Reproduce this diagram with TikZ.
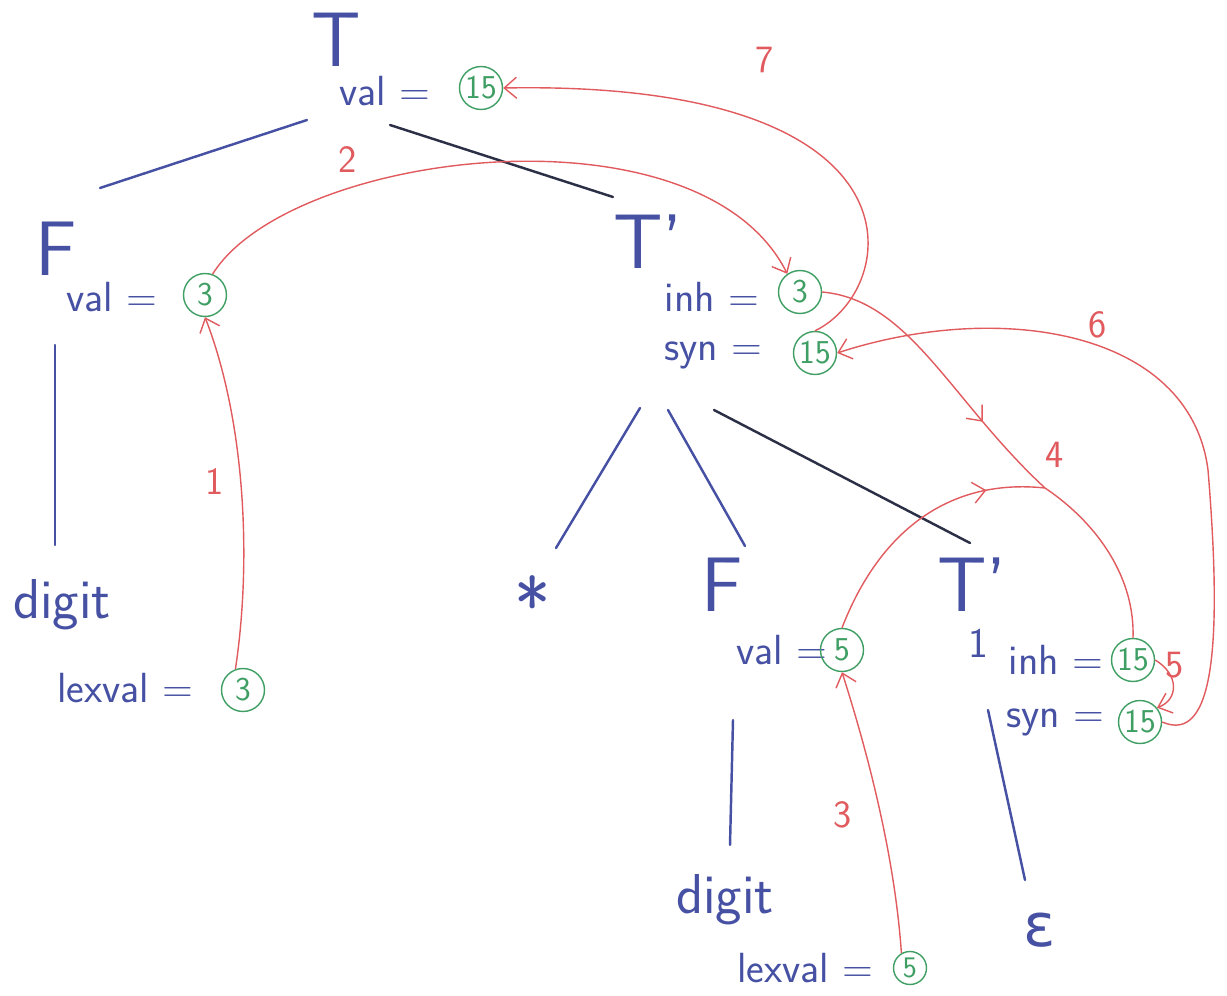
\documentclass[tikz,border=0pt]{standalone}
\usepackage{fontspec}
\newfontfamily\greekfont{DejaVu Sans}
\usetikzlibrary{arrows.meta,decorations.markings}
\definecolor{ink}{HTML}{4651A3}
\definecolor{edgedark}{HTML}{2C3046}
\definecolor{dep}{HTML}{E05A5E}
\definecolor{valgreen}{HTML}{3F9E63}
\begin{document}
\begin{tikzpicture}[x=0.02cm,y=-0.02cm,
  sym/.style={text=ink, inner sep=0, font=\sffamily\fontsize{44}{44}\selectfont},
  term/.style={text=ink, inner sep=0, font=\sffamily\fontsize{32}{32}\selectfont},
  att/.style={text=ink, inner sep=0, font=\sffamily\fontsize{24}{24}\selectfont},
  valc/.style={circle, draw=valgreen, line width=0.8pt, text=valgreen, inner sep=0,
    minimum size=0.86cm, font=\sffamily\fontsize{19}{19}\selectfont},
  smallvalc/.style={valc, minimum size=0.66cm, font=\sffamily\fontsize{17}{17}\selectfont},
  steplbl/.style={text=dep, inner sep=0, font=\sffamily\fontsize{22}{22}\selectfont},
  treeedge/.style={draw=ink, line width=1.4pt, line cap=round},
  darkedge/.style={draw=edgedark, line width=1.4pt, line cap=round},
  depline/.style={draw=dep, line width=0.8pt},
  deparrow/.style={depline, -{Straight Barb[length=7pt,width=12pt]}},
  midarrow/.style={depline, postaction={decorate}, decoration={markings,
    mark=at position #1 with {\arrow{Straight Barb[length=7pt,width=12pt]}}}}
]
\useasboundingbox (0,0) rectangle (1227,996);

% ---- root T ----
\node[sym] (T) at (336,40) {T};
\node[att] (Tvl) at (385,91) {val =};
\node[valc] (Tv) at (481,88) {15};

% ---- left factor F ----
\node[sym] (F) at (56,249) {F};
\node[att] (Fvl) at (112,297) {val =};
\node[valc] (Fv) at (205,295) {3};
\node[term] (D1) at (62,605) {digit};
\node[att] (L1l) at (125,688) {lexval =};
\node[valc] (L1) at (243,690) {3};

% ---- T' ----
\node[sym] (Tp) at (648,242) {T’};
\node[att] (Til) at (712,297) {inh =};
\node[valc] (Ti) at (800,292) {3};
\node[att] (Tsl) at (713,355) {syn =};
\node[valc] (Ts) at (815,353) {15};

% ---- children of T' ----
\node[sym] (star) at (533,605) {*};
\node[sym] (F2) at (722,585) {F};
\node[att] (F2vl) at (782,650) {val =};
\node[valc] (F2v) at (842,650) {5};
\node[term] (D2) at (725,900) {digit};
\node[att] (L2l) at (805,968) {lexval =};
\node[smallvalc] (L2) at (910,968) {5};

% ---- T'_1 ----
\node[sym] (T1) at (972,585) {T’};
\node[att] (T1sub) at (978,643) {1};
\node[att] (T1il) at (1056,660) {inh =};
\node[valc] (T1i) at (1133,660) {15};
\node[att] (T1sl) at (1055,722) {syn =};
\node[valc] (T1s) at (1140,722) {15};
\node[text=ink, inner sep=0, font=\greekfont\fontsize{34}{34}\selectfont] (eps) at (1040,930) {ε};

% ---- parse tree edges ----
\draw[treeedge] ([shift={(-29,80)}]T.center) -- ([shift={(44,-61)}]F.center);
\draw[darkedge] ([shift={(54,85)}]T.center) -- ([shift={(-35,-45)}]Tp.center);
\draw[treeedge] ([shift={(-1,96)}]F.center) -- ([shift={(-7,-60)}]D1.center);
\draw[treeedge] ([shift={(-8,166)}]Tp.center) -- ([shift={(23,-57)}]star.center);
\draw[treeedge] ([shift={(20,168)}]Tp.center) -- ([shift={(23,-39)}]F2.center);
\draw[darkedge] ([shift={(66,168)}]Tp.center) -- ([shift={(-2,-42)}]T1.center);
\draw[treeedge] ([shift={(11,135)}]F2.center) -- ([shift={(5,-55)}]D2.center);
\draw[treeedge] ([shift={(16,125)}]T1.center) -- ([shift={(-15,-50)}]eps.center);

% ---- dependency arrows ----
\draw[deparrow] (L1.110) .. controls (252,560) and (245,420) .. (Fv.south);
\node[steplbl] (s1) at (215,482) {1};

\draw[deparrow] (Fv.70) .. controls (290,150) and (700,100) .. (Ti.125);
\node[steplbl] (s2) at (348,160) {2};

\draw[deparrow] (L2.120) .. controls (895,860) and (870,760) .. (F2v.south);
\node[steplbl] (s3) at (843,815) {3};

\coordinate (m4) at (1045,488);
\draw[midarrow=0.7] (Ti.east) .. controls (910,300) and (950,400) .. (m4);
\draw[midarrow=0.78] (F2v.north) .. controls (880,530) and (950,478) .. (m4);
\draw[depline] (m4) .. controls (1100,525) and (1135,580) .. (T1i.north);
\node[steplbl] (s4) at (1055,455) {4};

\draw[deparrow] (T1i.east) .. controls (1180,675) and (1178,700) .. (T1s.40);
\node[steplbl] (s5) at (1175,665) {5};

\draw[deparrow] (T1s.east) .. controls (1215,745) and (1222,640) .. (1208,470)
  .. controls (1190,330) and (1000,300) .. (Ts.east);
\node[steplbl] (s6) at (1098,325) {6};

\draw[deparrow] (Ts.north) .. controls (900,290) and (935,80) .. (Tv.east);
\node[steplbl] (s7) at (765,60) {7};
\end{tikzpicture}
\end{document}
